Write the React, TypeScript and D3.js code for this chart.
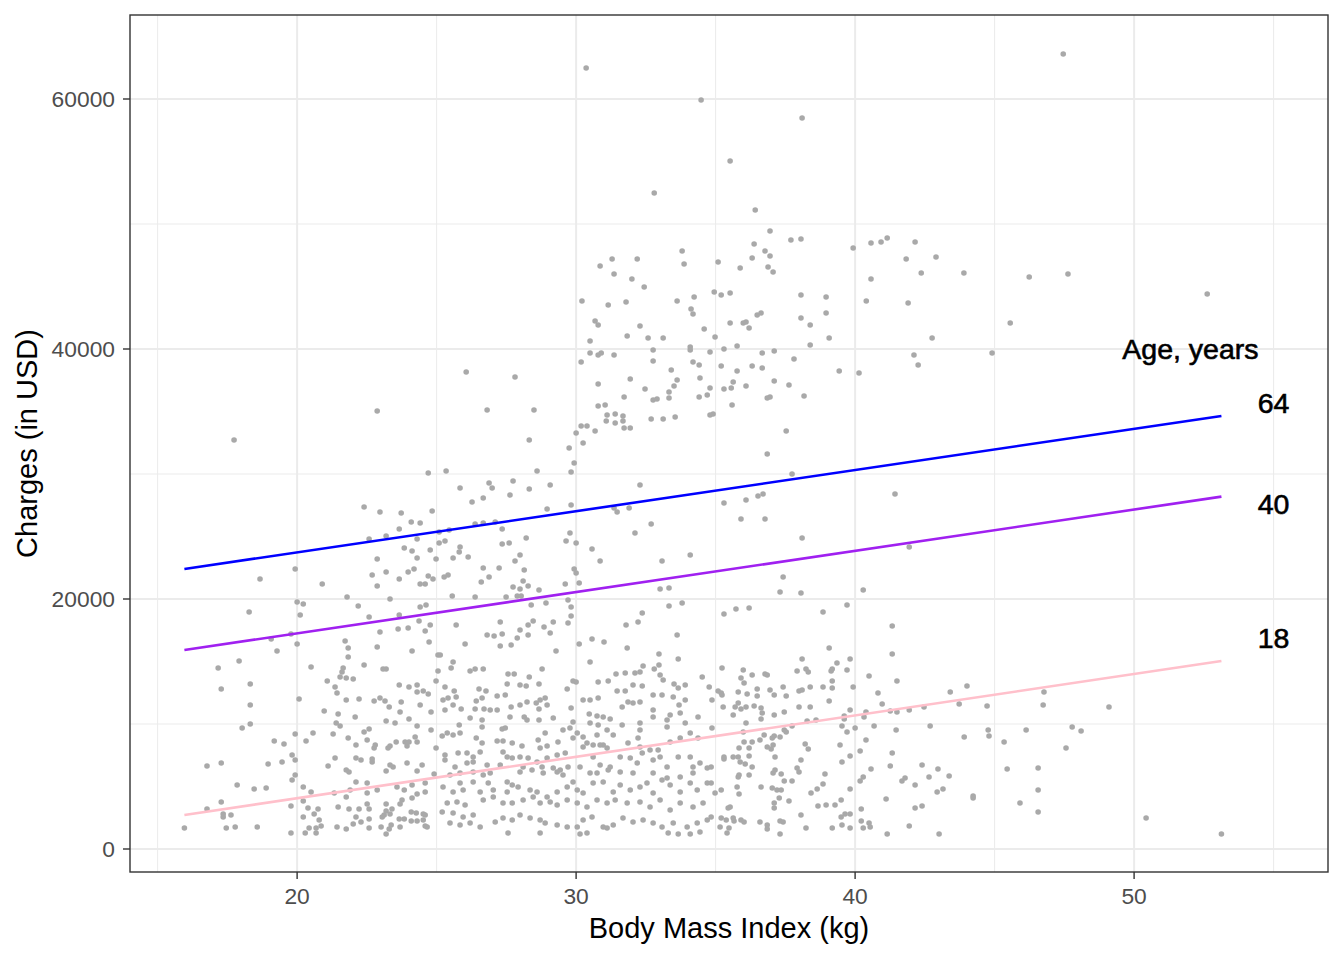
import * as d3 from 'd3';

// BMI (kg) vs charges (USD)
const points: [number, number][] = [
  [30.36,62480],[34.48,59920],[38.1,58480],[35.52,55040],[32.8,52480],[36.42,51120],[36.95,49440],[36.38,48400],[37.7,48720],[38.06,48800],
  [39.93,48080],[40.57,48480],[40.93,48560],[41.15,48880],[42.15,48560],[41.83,47200],[42.9,47360],[42.37,46080],[40.57,45600],[40.4,43840],
  [41.9,43680],[36.77,47840],[36.95,47440],[36.31,47280],[36.88,46560],[37.06,46160],[35.88,46480],[35.09,46960],[33.8,47840],[33.87,46800],
  [32.19,47200],[31.29,47200],[30.86,46640],[31.36,46000],[32.0,45600],[32.44,44960],[30.21,43840],[31.15,43520],[31.79,43760],[33.62,43840],
  [34.23,44160],[34.12,43200],[34.19,42800],[34.95,44560],[35.2,44320],[35.52,44480],[38.06,44320],[38.96,44160],[38.96,42880],[38.06,42480],
  [38.39,41920],[36.49,42720],[36.63,42880],[35.99,42080],[36.09,42160],[35.52,42080],[36.2,41680],[30.68,42240],[30.79,41920],[32.29,41840],
  [34.59,41600],
  [47.46,63600],[43.9,46080],[46.24,45760],[47.63,46000],[52.62,44400],[45.56,42080],
  [17.74,32720],[22.87,35040],[26.06,38160],[27.81,37760],[26.81,35120],[28.49,35120],[28.32,32720],[24.7,30080],[25.34,30240],[28.6,30240],
  [25.84,28880],[26.88,29280],[26.99,28880],[27.74,29440],[29.07,29120],[27.63,28320],[28.32,28800],[26.67,28080],[26.27,27760],[22.4,27360],
  [22.97,26960],[23.73,26880],[24.84,27040],[28.96,27200],[24.09,26160],[24.41,26080],[26.38,26000],[26.67,26080],[27.1,26160],[27.35,25600],
  [23.66,25600],[22.58,24800],[23.19,25040],[24.3,24800],[25.09,25360],[25.45,25520],[25.09,24480],[25.3,24640],[27.6,24480],[27.35,24400],
  [28.21,24880],[23.84,24080],[24.12,23840],[24.77,23920],[25.84,24160],[25.81,23760],[26.13,23360],[25.59,23280],[24.3,23280],[24.98,23200],
  [22.87,23200],[27.99,23520],[27.81,23040],[19.93,22400],[18.67,21600],[20.9,21200],[22.69,21920],[22.87,21040],[23.19,22160],[23.66,21600],
  [23.98,22160],[24.19,22400],[24.41,21200],[24.59,21200],[24.7,21840],[24.87,21600],[25.27,21760],[25.41,21920],[26.67,22480],[27.24,22480],
  [26.6,21360],[26.88,21760],[28.14,22320],[28.1,21440],[28.28,21040],[27.99,20800],[27.74,20960],[28.67,20720],[25.56,20240],[26.38,20160],
  [21.79,20160],[23.33,20000],[20.0,19760],[20.22,19600],[22.19,19440],[27.49,20160],[27.89,20240],[28.03,20240],[28.39,19520],[28.92,19680],
  [24.41,19360],[24.62,19520],
  [30.5,40640],[31.83,41040],[32.58,40880],[33.12,40880],[34.98,40960],[30.5,39680],[30.79,39520],[30.9,39680],[31.36,39520],[30.18,38960],
  [32.76,39920],[34.09,40160],[34.09,39920],[34.8,39760],[35.3,40000],[35.77,40240],[36.67,39680],[37.1,39840],[38.39,40320],[39.07,40880],
  [32.76,39040],[34.19,38960],[34.41,38720],[35.2,38640],[36.31,38640],[36.67,38480],[37.81,39200],[39.43,38240],[40.14,38080],[42.11,39520],
  [33.41,38320],[31.94,37600],[30.79,37200],[33.62,37520],[33.51,37040],[33.33,36560],[33.33,36080],[34.44,37680],[35.77,38240],[35.63,37360],
  [35.56,36880],[35.3,36800],[36.09,37040],[37.1,37440],[37.63,37120],[38.17,36240],[36.85,36080],[36.95,36160],[34.8,36880],[34.7,36320],
  [34.41,36160],[32.47,36800],[32.76,35920],[32.9,36000],[31.72,36160],[30.79,35440],[31.04,35520],[31.11,34720],[31.4,34800],[31.68,34640],
  [31.68,34240],[31.4,34080],[31.08,34240],[31.72,33680],[31.94,33680],[32.69,34400],[33.12,34400],[33.55,34560],[34.8,34720],[34.91,34800],
  [35.59,35520],[30.18,33840],[30.39,33840],[30.68,33440],[30.0,33280],[30.25,32480],[29.75,32080],[29.93,30880],[29.82,30160],[37.53,33440],
  [36.85,31600],[37.74,30000],[32.29,29120],[29.82,27520],[35.3,27680],[36.09,27920],[36.52,28240],[36.7,28400],[41.43,28400],[31.36,27280],
  [31.47,26960],[31.9,27280],[35.91,26400],[36.77,26400],[32.69,26000],[32.11,25280],[29.78,25280],[29.64,24640],[30.0,24480],[30.57,24000],
  [38.1,24880],[41.94,24160],[30.86,23040],[33.08,23040],[34.09,23520],[29.93,22400],[30.0,22080],[30.11,21280],[29.61,21200],[37.42,21760],
  [37.31,20560],[38.06,20480],[40.29,20720],[33.01,20800],[33.33,20880],[29.71,19920],[29.82,19360],[33.33,19440],[33.8,19680],[35.73,19200],
  [36.2,19280],[39.71,19520],
  [42.76,40880],[42.26,38720],[44.91,39680],
  [18.28,18960],[20.11,18720],[22.58,18560],[23.66,18720],[23.62,17600],[23.98,17680],[24.37,18240],[24.77,17920],[24.59,17440],[22.97,17360],
  [19.78,17200],[20.0,16400],[19.07,16800],[19.28,15840],[21.72,16640],[21.83,16080],[21.83,15360],[22.87,16160],[24.73,16560],[24.12,15840],
  [17.92,15040],[17.17,14480],[17.28,12800],[18.32,13200],[18.32,11520],[18.03,9680],[18.32,10000],[20.5,14560],[22.4,14720],[23.08,14400],
  [23.19,14400],[21.65,14480],[21.61,14160],[21.54,13760],[21.76,13680],[22.01,13600],[21.08,13440],[21.36,12960],[21.43,12480],[20.07,12000],
  [21.76,11920],[22.22,12000],[22.76,11840],[22.97,12080],[23.15,11840],[23.3,11360],[23.66,13120],[24.01,12960],[24.3,13120],[24.3,12560],
  [24.52,12640],[24.7,12400],[23.73,11760],[23.69,10960],[24.41,11520],[20.97,11040],[21.47,10800],[22.08,10560],[21.4,10080],[21.54,9840],
  [23.19,10240],[23.51,10080],[24.01,10400],[24.3,9840],[24.8,9520],[22.4,9360],[22.58,9600],[19.93,9200],[20.57,9280],[20.32,8640],
  [19.18,8640],[19.53,8400],[21.29,9200],[21.83,8880],[22.11,8320],[22.51,8720],[22.8,8320],[22.76,8080],[23.26,8080],[23.33,8240],
  [23.55,8560],[23.87,8560],[24.01,8560],[23.94,8240],[24.23,8960],[24.3,8560],[19.82,7520],[19.93,7120],[16.77,6640],[17.28,6880],
  [18.96,6800],[19.46,6960],[21.36,7280],[21.11,6640],[22.11,7280],[22.29,7120],[22.69,7200],[22.69,6960],[21.76,6320],[21.86,6160],
  [23.19,6240],[23.33,6720],[23.44,6560],[23.94,6880],[24.48,6720],[24.3,6240],[19.93,5920],[19.82,5520],[17.85,5120],[18.46,4800],
  [18.89,4880],[20.22,4960],[20.5,4560],[22.11,5360],[22.51,5280],[22.87,4720],[21.33,4480],[21.76,4160],[21.9,4720],[22.51,4480],
  [23.58,4960],[23.84,4720],[24.12,5120],[24.59,5280],[24.91,6000],[23.76,3920],[24.3,4400],[24.12,4080],[24.59,4560],[17.28,3760],
  [16.77,3200],[17.35,2800],[17.35,2560],[17.63,2720],[15.96,1680],[17.46,1680],[17.78,1760],[18.57,1760],[19.78,3440],[20.22,3840],
  [20.39,3280],[20.75,3200],[20.61,2800],[20.22,2560],[20.79,2320],[20.86,1840],[20.68,1680],[20.43,1680],[20.29,1280],[20.68,1280],
  [19.78,1280],[21.47,3360],[21.86,3200],[22.22,3200],[22.58,3200],[22.11,2560],[22.29,2160],[22.58,2400],[22.58,1680],[22.01,2000],
  [21.43,1760],[21.76,1600],[22.51,3600],[23.19,3600],[23.69,3600],[23.19,3040],[23.4,3200],[23.05,2560],[23.12,2720],[23.33,2800],
  [23.01,1760],[23.3,1600],[23.19,1200],[23.37,1920],[23.69,1760],[23.66,2400],[23.84,2400],[24.09,2960],[24.27,2880],[24.09,2240],
  [24.3,2240],[24.52,2800],[24.59,2720],[24.52,2320],[24.59,1840],[24.66,1760],[25.05,15520],[25.05,14240],[24.98,13440],[24.8,10960],
  [24.98,8080],
  [25.7,17920],[26.81,17120],[27.06,17040],[27.35,17200],[27.28,18160],[27.28,16240],[27.67,16320],[27.99,17520],[27.89,16880],[28.28,17120],
  [28.28,17920],[28.46,18240],[28.85,17760],[29.07,17280],[29.18,18160],[29.71,18080],[29.82,18640],[29.28,15840],[26.02,16400],[30.11,16400],
  [30.57,16800],[31.0,16560],[31.79,17920],[32.22,18160],[32.37,18880],[33.62,17120],[31.83,16080],[32.97,15600],[33.66,15200],[30.5,14960],
  [25.13,15520],[25.59,14960],[25.52,14480],[26.2,14240],[26.38,14400],[26.67,14400],[27.56,14000],[27.78,14000],[28.32,13760],[28.78,14400],
  [27.53,13200],[27.99,13120],[28.21,13040],[28.67,13200],[29.89,13440],[30.0,13360],[29.68,12800],[30.79,13360],[31.15,13440],[31.43,14000],
  [31.76,14080],[32.11,14080],[32.29,14160],[32.4,14640],[32.8,14400],[33.01,13920],[32.97,14720],[33.12,13520],[31.47,12640],[31.76,12640],
  [32.04,13120],[32.37,13040],[33.51,13200],[33.91,13120],[33.66,12880],[34.52,13760],[34.77,12960],[25.3,12960],[25.63,12640],[25.7,12160],
  [25.41,12080],[25.23,11920],[26.52,12800],[26.77,12640],[26.63,12080],[26.42,11840],[27.17,12240],[27.46,12320],[25.59,11520],[25.88,11200],
  [25.3,11120],[26.38,11200],[26.7,11200],[26.92,11120],[27.17,11120],[27.67,11360],[27.99,11520],[28.24,11760],[28.57,11680],[28.71,11920],
  [28.89,12080],[28.96,11520],[28.67,11200],[28.14,10560],[28.24,10320],[27.63,10560],[28.67,10320],[29.18,10480],[30.25,11920],[30.5,11920],
  [29.82,11280],[30.79,12080],[31.65,11360],[31.86,11760],[32.04,11680],[32.29,11760],[32.76,12320],[33.08,12320],[32.76,11120],[32.76,10560],
  [33.48,12160],[33.69,11520],[33.91,11920],[33.37,10720],[33.73,10880],[33.26,10320],[30.75,10640],[30.97,10560],[31.22,10400],[30.47,10800],
  [26.2,10480],[26.63,10320],[34.37,10560],
  [25.81,9920],[25.38,9280],[25.59,9120],[25.2,9040],[25.84,9280],[26.63,9760],[26.42,8880],[26.63,8480],[27.35,9600],[27.46,9680],
  [27.17,8640],[27.38,8640],[27.71,8480],[28.06,8240],[28.89,9280],[28.64,8720],[28.71,8080],[28.96,8240],[29.35,8560],[29.53,9520],
  [29.78,9680],[29.89,10160],[30.04,9280],[29.89,8880],[30.25,8960],[30.25,8160],[30.5,10080],[30.79,9920],[30.75,9120],[31.11,9520],
  [31.33,9120],[31.65,9920],[32.29,10080],[32.29,9520],[32.22,8880],[31.86,8480],[32.29,8160],[32.65,7920],[32.94,7920],[33.26,9760],
  [33.91,10080],[34.09,9280],[34.37,8880],[33.73,8880],[33.37,8560],[30.39,8480],[30.61,8320],[30.97,8320],[25.3,7520],[25.77,7680],
  [26.09,7680],[26.31,7360],[26.56,7760],[27.38,7760],[27.53,7360],[27.71,7280],[27.99,7360],[28.28,7280],[28.6,6960],[28.96,7280],
  [29.32,7520],[29.61,7680],[26.09,6880],[26.31,6960],[25.3,7120],[25.66,6560],[26.81,6720],[27.28,6720],[28.1,6560],[28.42,6320],
  [28.78,6560],[29.18,6480],[29.43,6320],[29.71,6560],[30.14,6560],[30.61,7360],[30.86,8320],[31.11,8080],[30.86,6720],[31.22,6560],
  [31.58,7360],[31.94,7280],[32.19,6880],[32.37,7680],[32.76,7120],[33.01,7360],[33.26,6560],[33.66,7360],[34.09,7360],[34.19,6560],
  [34.44,6880],[34.7,6480],[25.48,5920],[25.84,6080],[26.31,6160],[26.67,5920],[26.92,6080],[27.99,6160],[28.82,6080],[29.32,6160],
  [29.53,5920],[30.5,6080],[30.75,6080],[31.15,6320],[31.58,6160],[32.04,6080],[32.76,6080],[33.26,5680],[33.73,5760],[34.19,6080],
  [25.23,4960],[25.84,5280],[26.31,5360],[25.95,4720],[25.59,4560],[26.56,4560],[26.85,5280],[27.03,4720],[27.53,5360],[27.71,5120],
  [27.53,4560],[27.92,4960],[28.35,4720],[28.6,4560],[28.96,4160],[29.32,4560],[29.68,4960],[29.89,5360],[30.04,4720],[30.25,4480],
  [30.61,5280],[30.97,5360],[31.33,4560],[31.58,5120],[31.94,4720],[32.29,4960],[32.54,5280],[32.76,4480],[33.08,5520],[33.37,5120],
  [33.73,4560],[34.09,5280],[34.34,4720],[34.7,5280],[25.38,3680],[25.73,3760],[26.02,3520],[25.2,2960],[25.59,2880],[25.95,2560],
  [26.31,2720],[26.67,3920],[27.03,4160],[27.38,3680],[27.71,3680],[28.1,3920],[28.46,4160],[28.71,3680],[29.07,3760],[29.32,3520],
  [29.68,3920],[30.04,3680],[30.39,3360],[30.75,3920],[31.11,3680],[31.4,3920],[31.83,3680],[32.29,3760],[32.65,3360],[33.01,3920],
  [33.37,3120],[33.73,3680],[34.19,3360],[34.55,3680],[25.48,2080],[25.84,1920],[26.2,2080],[26.56,1760],[27.1,2160],[27.38,2480],
  [27.71,2320],[27.99,2720],[28.35,2480],[28.71,2320],[28.89,2080],[29.32,1920],[29.68,1760],[30.04,1760],[30.25,2320],[30.57,2560],
  [30.97,1760],[31.33,1920],[31.68,2480],[32.04,2160],[32.4,2320],[32.76,2080],[33.08,1760],[33.48,2080],[33.98,1760],[34.34,2080],
  [34.7,2320],[27.56,1280],[28.71,1280],[30.14,1200],[30.39,1280],[31.11,1680],[33.3,1280],[33.66,1200],[34.09,1200],[34.44,1360],
  [35.3,18800],[38.85,18960],[41.33,17840],[41.33,15600],[41.5,13440],[39.07,16080],[38.1,15200],[39.35,14880],[39.82,15200],[39.14,14240],
  [39.18,14400],[39.71,14320],[38.24,14400],[38.32,14160],[37.92,14240],[39.18,13440],[38.85,12960],[39.18,12880],[39.93,12960],[40.5,13840],
  [40.82,12480],[39.07,11840],[40.97,11600],[41.26,11040],[41.5,10960],[41.94,11120],[42.47,11360],[43.41,12560],[44.01,13040],[43.73,11600],
  [35.23,14480],[35.99,14320],[36.31,13920],[36.77,14000],[36.85,13920],[35.91,13680],[36.02,13280],[35.09,12640],[35.23,12320],[35.2,12480],
  [34.87,11920],[35.81,12560],[36.13,12400],[36.49,12800],[36.49,12240],[36.95,12720],[37.1,12320],[37.42,12960],[37.53,12240],[37.99,12640],
  [38.1,12720],[38.39,12960],[35.27,11360],[35.7,11360],[35.81,11680],[35.91,11200],[36.09,11360],[36.38,11440],[36.63,11280],[36.67,10880],
  [36.63,10400],[35.63,10720],[36.09,10080],[37.1,10720],[37.46,10960],[37.99,11360],[38.39,11360],[38.6,10320],[38.28,10240],[39.61,10640],
  [39.61,10400],[39.82,11120],[40.32,10560],[40.39,10960],[34.87,9680],[35.99,9360],[36.74,9120],[37.03,8880],[37.1,9040],[37.31,8960],
  [37.46,9520],[37.53,9360],[37.74,9840],[39.53,9840],[39.71,9360],[40.0,9680],[40.68,9840],[42.69,9840],[41.47,9520],[43.91,8960],
  [36.02,8560],[36.31,8560],[35.84,8080],[36.2,8080],[36.59,8720],[36.85,8160],[36.99,8000],[37.13,7360],[37.06,8320],[38.21,8400],
  [38.32,8000],[39.46,8320],[40.39,8720],[40.18,7840],[41.33,7680],[39.82,7440],[39.53,6960],[38.06,7120],[35.3,7360],[35.3,7200],
  [35.63,7360],[35.81,7360],[35.88,6960],[36.06,6800],[36.2,7440],[36.31,6560],[34.84,6560],[34.84,5280],[34.84,2560],[35.81,5760],
  [35.84,5920],[36.2,5920],[37.06,6080],[37.35,6000],[37.13,6320],[37.92,6480],[37.99,6160],[37.46,5440],[37.74,5440],[38.92,6000],
  [40.57,6400],[41.26,6640],[40.29,5760],[40.18,5440],[42.4,6720],[42.97,6400],[42.65,5760],[43.37,5840],[41.68,5440],[41.79,5680],
  [42.15,5120],[34.98,4480],[35.2,4720],[35.77,4960],[35.84,4400],[36.63,4960],[37.03,4880],[37.2,4720],[37.35,4720],[37.28,4080],
  [37.63,3840],[38.42,4480],[38.64,4800],[38.85,5200],[39.82,4800],[42.94,4560],[43.15,4800],[41.11,4000],[44.23,4240],[44.23,4080],
  [37.1,3680],[37.1,3280],[38.06,2720],[38.67,3440],[38.96,3520],[39.28,3520],[39.5,3920],[40.22,3200],[42.15,3280],[42.4,3440],
  [35.52,3360],[35.45,3280],[35.2,2480],[35.38,2320],[35.63,2480],[35.66,2240],[35.91,2320],[36.02,2160],[35.16,1760],[35.48,1680],
  [35.41,1280],[36.59,2160],[36.85,1920],[36.85,1600],[37.31,2240],[37.42,2160],[37.31,1200],[38.24,1680],[39.18,1680],[39.5,2560],
  [39.64,2800],[39.82,2800],[39.53,1920],[39.82,1680],[40.22,2240],[40.29,1680],[40.5,2080],[40.54,1760],[41.15,1200],[41.94,1840],
  [43.01,1200],
  [46.77,12560],[46.74,11520],[44.73,11440],[49.1,11360],[44.77,9520],[44.8,9040],[46.13,9520],[47.78,9760],[48.1,9440],[45.34,8560],
  [47.56,8080],[45.45,6400],[46.56,6480],[46.56,4720],[45.91,3680],[46.56,2960],[50.43,2480],[53.13,1200],
];

// fitted lines, one per age
const ages = ['64', '40', '18'];
const fitBmi = [15.96, 53.13];
const fitStart = [22400, 15920, 2720];
const fitEnd = [34640, 28190, 15040];
const ageLabelBmi = 55;
const ageLabelCharges = [35720, 27640, 16880];
const legendTitle = 'Age, years';
const legendTitleAt = [52.02, 40000];

const xTicks = [20, 30, 40, 50];
const xMinorTicks = [15, 25, 35, 45, 55];
const yTicks = [0, 20000, 40000, 60000];
const yMinorTicks = [10000, 30000, 50000];

const WIDTH = 1344;
const HEIGHT = 960;
const PANEL = { left: 130, right: 1328, top: 15, bottom: 872 };
const LINE_COLORS = ['#0000FF', '#A020F0', '#FFC0CB'];
const FONT = '"Liberation Sans", Arial, Helvetica, sans-serif';

export default function App() {
  const x = d3.scaleLinear().domain([14.01, 56.95]).range([PANEL.left, PANEL.right]);
  const y = d3.scaleLinear().domain([-1840, 66720]).range([PANEL.bottom, PANEL.top]);

  const fitLine = d3.line<[number, number]>()
    .x((d) => x(d[0]))
    .y((d) => y(d[1]));

  return (
    <svg
      width={WIDTH}
      height={HEIGHT}
      style={{ position: 'absolute', left: 0, top: 0, display: 'block', background: '#fff' }}
      fontFamily={FONT}
    >
      <rect x={0} y={0} width={WIDTH} height={HEIGHT} fill="#fff" />
      {/* grid */}
      <g>
        {xMinorTicks.map((t) => (
          <line key={'xm' + t} x1={x(t)} x2={x(t)} y1={PANEL.top} y2={PANEL.bottom} stroke="#EBEBEB" strokeWidth={1} />
        ))}
        {yMinorTicks.map((t) => (
          <line key={'ym' + t} x1={PANEL.left} x2={PANEL.right} y1={y(t)} y2={y(t)} stroke="#EBEBEB" strokeWidth={1} />
        ))}
        {xTicks.map((t) => (
          <line key={'xg' + t} x1={x(t)} x2={x(t)} y1={PANEL.top} y2={PANEL.bottom} stroke="#EBEBEB" strokeWidth={2} />
        ))}
        {yTicks.map((t) => (
          <line key={'yg' + t} x1={PANEL.left} x2={PANEL.right} y1={y(t)} y2={y(t)} stroke="#EBEBEB" strokeWidth={2} />
        ))}
      </g>

      {/* points */}
      <g fill="#A9A9A9">
        {points.map((d, i) => (
          <circle key={i} cx={x(d[0])} cy={y(d[1])} r={2.8} />
        ))}
      </g>

      {/* fitted lines */}
      {ages.map((a, i) => (
        <path
          key={a}
          d={fitLine([[fitBmi[0], fitStart[i]], [fitBmi[1], fitEnd[i]]]) ?? ''}
          stroke={LINE_COLORS[i]}
          strokeWidth={2.6}
          fill="none"
        />
      ))}

      {/* age labels */}
      <g fontSize={28.5} fill="#000" stroke="#000" strokeWidth={0.6} textAnchor="middle" dominantBaseline="central">
        <text x={x(legendTitleAt[0])} y={y(legendTitleAt[1])}>{legendTitle}</text>
        {ages.map((a, i) => (
          <text key={a} x={x(ageLabelBmi)} y={y(ageLabelCharges[i])}>{a}</text>
        ))}
      </g>

      {/* panel border */}
      <rect
        x={PANEL.left}
        y={PANEL.top}
        width={PANEL.right - PANEL.left}
        height={PANEL.bottom - PANEL.top}
        fill="none"
        stroke="#333333"
        strokeWidth={1.4}
      />

      {/* axes */}
      <g stroke="#333333" strokeWidth={1.4}>
        {xTicks.map((t) => (
          <line key={'xt' + t} x1={x(t)} x2={x(t)} y1={PANEL.bottom} y2={PANEL.bottom + 7} />
        ))}
        {yTicks.map((t) => (
          <line key={'yt' + t} x1={PANEL.left - 7} x2={PANEL.left} y1={y(t)} y2={y(t)} />
        ))}
      </g>
      <g fontSize={22.8} fill="#4D4D4D">
        {xTicks.map((t) => (
          <text key={'xl' + t} x={x(t)} y={904} textAnchor="middle">{t}</text>
        ))}
        {yTicks.map((t) => (
          <text key={'yl' + t} x={PANEL.left - 15} y={y(t)} textAnchor="end" dominantBaseline="central">{t}</text>
        ))}
      </g>

      <text x={(PANEL.left + PANEL.right) / 2} y={938} textAnchor="middle" fontSize={29} fill="#000">
        Body Mass Index (kg)
      </text>
      <text
        transform={`translate(27,${(PANEL.top + PANEL.bottom) / 2}) rotate(-90)`}
        textAnchor="middle"
        dominantBaseline="central"
        fontSize={29}
        fill="#000"
      >
        Charges (in USD)
      </text>
    </svg>
  );
}
